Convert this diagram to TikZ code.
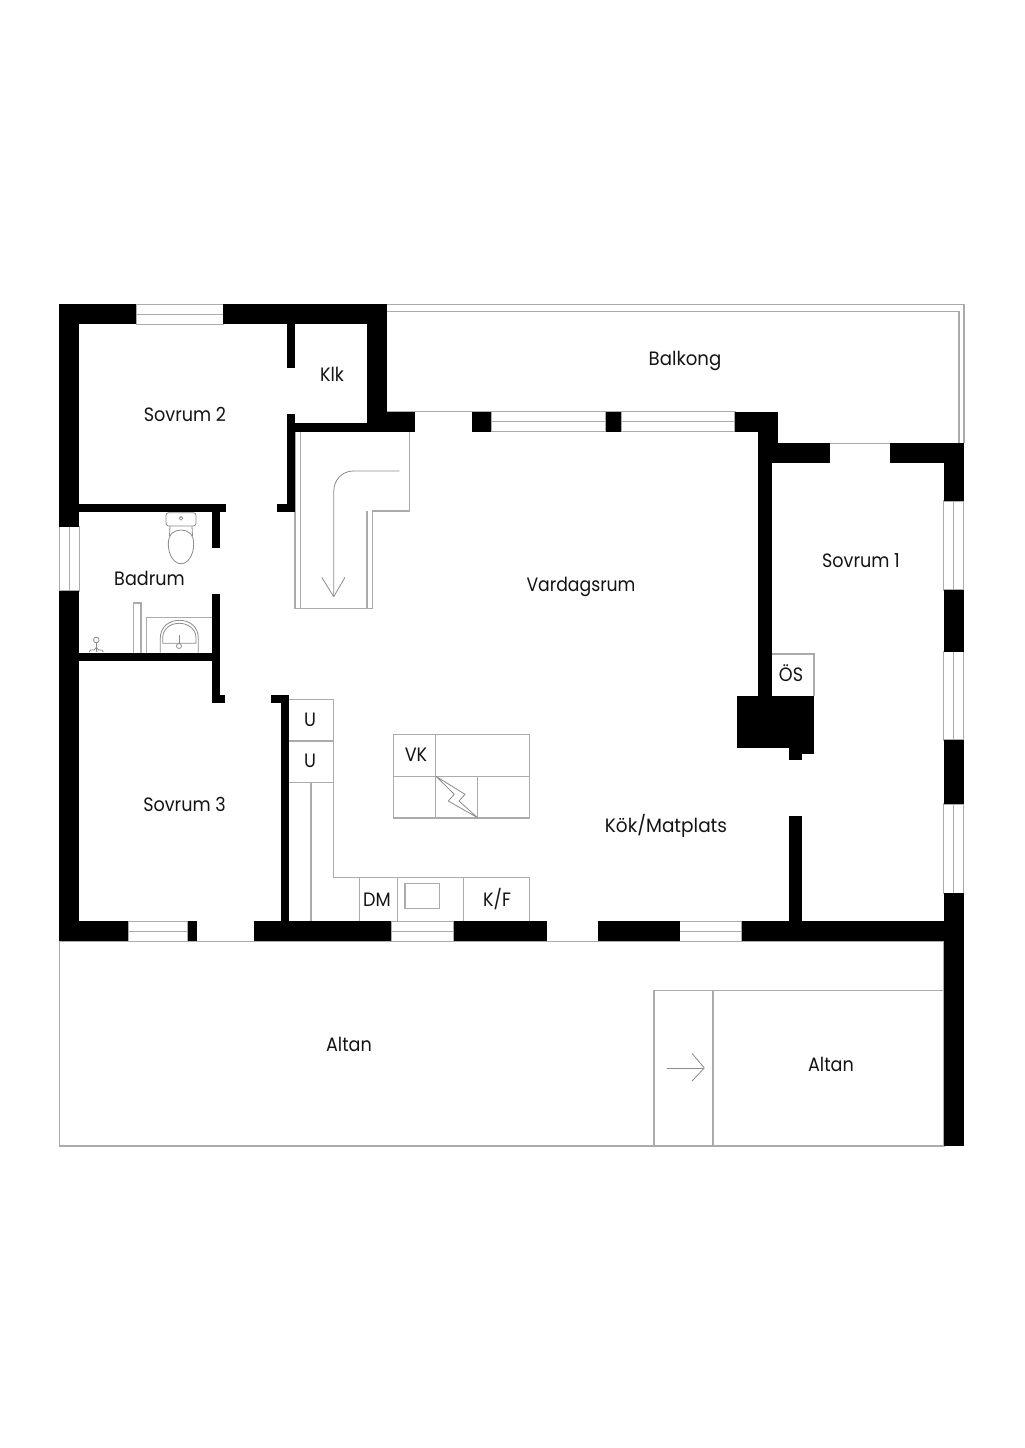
\documentclass[tikz,border=0pt]{standalone}
\usepackage{fontspec}
\usepackage{graphicx}
\setmainfont[FakeStretch=0.91]{Poppins}
\tikzset{
  wall/.style={fill=black,draw=none},
  thin line/.style={draw=linegray,line width=0.85pt,fill=none},
  fine line/.style={draw=finegray,line width=0.6pt,fill=none,line join=round},
  label/.style={anchor=base,inner sep=0pt,font=\fontsize{14.5}{16}\selectfont,text=black!92}
}
\definecolor{linegray}{HTML}{ABABAB}
\definecolor{finegray}{HTML}{8C8C8C}
\newcommand{\winH}[4]{\draw[thin line] (#1,#3) rectangle (#2,#4); \draw[thin line] (#1,{(#3+#4)/2}) -- (#2,{(#3+#4)/2});}
\newcommand{\winV}[4]{\draw[thin line] (#1,#3) rectangle (#2,#4); \draw[thin line] ({(#1+#2)/2},#3) -- ({(#1+#2)/2},#4);}
\begin{document}
\begin{tikzpicture}[x=0.75pt,y=-0.75pt]
\useasboundingbox (0,0) rectangle (1024,1448);
\fill[white] (0,0) rectangle (1024,1448);

% balcony
\draw[thin line] (387,304.5) -- (964,304.5) -- (964,443.3);
\draw[thin line] (387,311.7) -- (959,311.7) -- (959,443.3);
\draw[thin line] (387,411.7) -- (735,411.7);
\draw[thin line] (778,443.3) -- (964,443.3);

% terrace
\draw[thin line] (59.5,941.2) rectangle (944,1146);
\draw[thin line] (654,1146) -- (654,990.3) -- (944,990.3);
\draw[thin line] (713,990.3) -- (713,1146);
\draw[fine line] (666.7,1068) -- (704.3,1068);
\draw[fine line] (692,1053.3) -- (704.3,1068) -- (692,1081);

% windows
\winH{136.3}{223.3}{304.3}{324.3}
\winV{59.3}{79.3}{526.7}{591}
\winH{491}{605.5}{411.7}{431.7}
\winH{621}{735}{411.7}{431.7}
\winV{943.7}{963.7}{501}{590}
\winV{943.7}{963.7}{651.7}{740}
\winV{943.7}{963.7}{804}{893.3}
\winH{128}{188}{921.3}{941.2}
\winH{391}{453.7}{921.3}{941.2}
\winH{679.7}{742}{921.3}{941.2}

% stairs
\draw[thin line] (295,431.7) -- (295,608.3) -- (372.3,608.3) -- (372.3,511) -- (409.7,511) -- (409.7,431.7);
\draw[thin line] (300.3,431.7) -- (300.3,608.3);
\draw[thin line] (367,608.3) -- (367,511);
\draw[fine line] (333.7,596.7) -- (333.7,491.7) .. controls (333.7,480) and (342,471) .. (353.3,471) -- (399.3,471);
\draw[fine line] (321.7,577.3) -- (333.7,596.7) -- (345,577.3);

% kitchen
\draw[thin line] (289,699.3) -- (333.3,699.3) -- (333.3,877.3) -- (529.3,877.3) -- (529.3,921.3);
\draw[thin line] (289,741) -- (333.3,741);
\draw[thin line] (289,782.3) -- (333.3,782.3);
\draw[thin line] (311,782.3) -- (311,921.3);
\draw[thin line] (359.3,877.3) -- (359.3,921.3);
\draw[thin line] (397.3,877.3) -- (397.3,921.3);
\draw[thin line] (463.3,877.3) -- (463.3,921.3);
\draw[thin line] (405,883.3) rectangle (439.3,908.3);

% electrical cabinet block
\draw[thin line] (393.7,734.7) rectangle (529.3,818);
\draw[thin line] (393.7,776.3) -- (529.3,776.3);
\draw[thin line] (435.7,734.7) -- (435.7,818);
\draw[thin line] (477.7,776.3) -- (477.7,818);
\draw[fine line] (436,776.3) -- (465,794.3) -- (459,801) -- (477.5,817.7) -- (448.3,801) -- (454.3,794.3) -- cycle;

% OS box
\draw[thin line] (772,654) -- (814,654) -- (814,696);

% bathroom fixtures
\draw[fine line,rounded corners=2pt] (166,512.7) rectangle (196,526);
\draw[fine line] (181,518.3) circle[radius=1.8];
\draw[fine line] (181,530) .. controls (174,530) and (168.3,534) .. (168.3,544) .. controls (168.3,555) and (174,563.7) .. (181,563.7) .. controls (188,563.7) and (193.7,555) .. (193.7,544) .. controls (193.7,534) and (188,530) .. (181,530);
\draw[fine line] (170,526) -- (169.5,536);
\draw[fine line] (192,526) -- (192.5,536);
\draw[thin line] (211.7,617.3) -- (146.3,617.3) -- (146.3,652.7);
\draw[thin line] (133.3,652.7) -- (133.3,603) -- (141,603) -- (141,652.7);
\draw[fine line] (160.3,652.7) -- (160.3,638) .. controls (160.3,627) and (169,620.3) .. (179.3,620.3) .. controls (190,620.3) and (198.3,627) .. (198.3,638) -- (198.3,652.7);
\draw[fine line] (162.7,643.3) -- (162.7,638) .. controls (162.7,629) and (170,623.3) .. (179.3,623.3) .. controls (188,623.3) and (196,629) .. (196,638) -- (196,643.3) -- cycle;
\draw[fine line] (179,635) -- (179,643.5);
\draw[fine line] (179,646) circle[radius=2.5];
\draw[fine line] (96.3,640) circle[radius=2.8];
\draw[fine line] (96.3,642.8) -- (96.3,652);
\draw[fine line] (89.3,652) -- (90.5,650) -- (94,650) -- (96.3,647.5) -- (98.6,650) -- (102,650) -- (103.3,652);

% walls
\fill[wall] (59.3,304.3) rectangle (136.3,324.3);
\fill[wall] (223.3,304.3) rectangle (387.3,324.3);
\fill[wall] (59.3,304.3) rectangle (79.3,526.7);
\fill[wall] (59.3,591) rectangle (79.3,941.2);
\fill[wall] (367.3,304.3) rectangle (387.3,431.7);
\fill[wall] (286.7,324) rectangle (295,367.7);
\fill[wall] (286.7,414) rectangle (295,512.3);
\fill[wall] (276.7,504.3) rectangle (295,512.3);
\fill[wall] (286.7,423.3) rectangle (415.3,431.7);
\fill[wall] (367.3,411.7) rectangle (415.3,431.7);
\fill[wall] (472,411.7) rectangle (491,431.7);
\fill[wall] (605.5,411.7) rectangle (621,431.7);
\fill[wall] (735,411.7) rectangle (778.3,431.7);
\fill[wall] (758.3,411.7) rectangle (772.3,700);
\fill[wall] (758.3,411.7) rectangle (778.3,463.3);
\fill[wall] (758.3,443.3) rectangle (830,463.3);
\fill[wall] (889.7,443.3) rectangle (963.7,463.3);
\fill[wall] (943.7,443.3) rectangle (963.7,501);
\fill[wall] (943.7,590) rectangle (963.7,651.7);
\fill[wall] (943.7,740) rectangle (963.7,804);
\fill[wall] (943.7,893.3) rectangle (963.7,1146);
% chimney
\fill[wall] (737.3,696) rectangle (814,748.3);
\fill[wall] (789,748) rectangle (814,754);
\fill[wall] (789,748) rectangle (802,760.3);
% bathroom walls
\fill[wall] (79,504.3) rectangle (226,512.3);
\fill[wall] (211.7,504.3) rectangle (220,548.3);
\fill[wall] (211.7,594.3) rectangle (220,702.7);
\fill[wall] (211.7,695) rectangle (224.7,702.7);
\fill[wall] (79,652.7) rectangle (220,661);
% kitchen wall
\fill[wall] (280.7,694.7) rectangle (289,925);
\fill[wall] (271,694.7) rectangle (289,702.7);
% bottom wall
\fill[wall] (59.3,921.3) rectangle (128,941.2);
\fill[wall] (188,921.3) rectangle (197,941.2);
\fill[wall] (254,921.3) rectangle (391,941.2);
\fill[wall] (453.7,921.3) rectangle (547.3,941.2);
\fill[wall] (597.7,921.3) rectangle (679.7,941.2);
\fill[wall] (742,921.3) rectangle (963.7,941.2);
\fill[wall] (789,816) rectangle (802,925);

% labels
\node[label] (balkong) at (685,365.5) {\scalebox{1.03}[1]{Balkong}};
\node[label] (sov2) at (185,421) {Sovrum 2};
\node[label] (klk) at (332,381.5) {Klk};
\node[label] (badrum) at (149.5,585.3) {Badrum};
\node[label] (vardag) at (581,591) {\scalebox{0.98}[1]{Vardagsrum}};
\node[label] (sov1) at (861,567.5) {Sovrum 1};
\node[label] (os) at (791,681) {ÖS};
\node[label] (sov3) at (184.5,811) {Sovrum 3};
\node[label] (u1) at (310,726.7) {U};
\node[label] (u2) at (310,767.7) {U};
\node[label] (vk) at (416,761.7) {VK};
\node[label] (kok) at (666,832) {\scalebox{1.05}[1]{Kök/Matplats}};
\node[label] (dm) at (377,906.7) {DM};
\node[label] (kf) at (497,906.7) {K/F};
\node[label] (altan1) at (349,1051) {Altan};
\node[label] (altan2) at (831,1071) {Altan};
\end{tikzpicture}
\end{document}
